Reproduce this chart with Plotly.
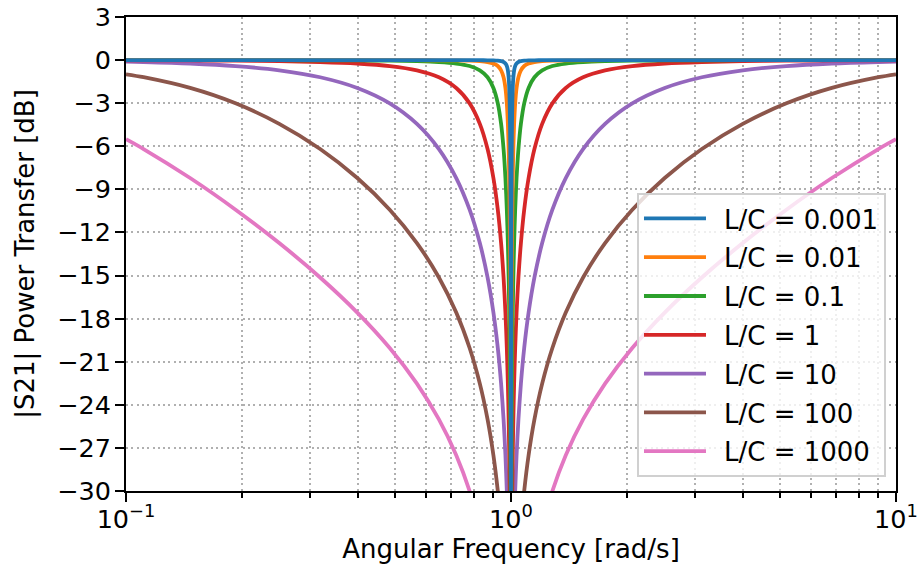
import plotly.graph_objects as go

# Angular frequency samples [rad/s] (shared by all curves)
omega = [
    0.1, 0.111081, 0.14675, 0.192582, 0.250031, 0.319378, 0.398833, 0.484186,
    0.569681, 0.649799, 0.720727, 0.780776, 0.829948, 0.869249, 0.900118, 0.924063,
    0.942472, 0.956531, 0.967218, 0.975312, 0.981428, 0.986041, 0.989513, 0.992126,
    0.994089, 0.995564, 0.996672, 0.997503, 0.998127, 0.998595, 0.998946, 0.99921,
    0.999407, 0.999555, 0.999667, 0.99975, 0.999813, 0.999859,
    1.000141, 1.000187, 1.00025, 1.000333, 1.000445, 1.000593, 1.000791, 1.001055,
    1.001407, 1.001876, 1.002503, 1.00334, 1.004456, 1.005946, 1.007937, 1.010598,
    1.014158, 1.018923, 1.025312, 1.033894, 1.045445, 1.061041, 1.082177, 1.110966,
    1.15042, 1.204895, 1.280776, 1.387488, 1.538939, 1.755368, 2.065325, 2.507316,
    3.131085, 3.999502, 5.192582, 6.814357, 9.00248, 10.0,
]

# |S21| [dB] for each L/C ratio
s21_lc_0001 = [
    0, 0, 0, 0, 0, 0, 0, 0,
    -0.001, -0.001, -0.002, -0.004, -0.008, -0.014, -0.024, -0.043, -0.077, -0.135,
    -0.238, -0.414, -0.711, -1.193, -1.938, -3.010, -4.438, -6.193, -8.211, -10.414,
    -12.738, -15.135, -17.577, -20.043, -22.524, -25.014, -27.508, -30.004, -32.502, -35.001,
    -35.001, -32.502, -30.004, -27.508, -25.014, -22.524, -20.043, -17.577, -15.135, -12.738,
    -10.414, -8.211, -6.193, -4.438, -3.010, -1.938, -1.193, -0.711, -0.414, -0.238,
    -0.135, -0.077, -0.043, -0.024, -0.014, -0.008, -0.004, -0.002, -0.001, -0.001,
    0, 0, 0, 0, 0, 0, 0, 0,
]
s21_lc_001 = [
    0, 0, 0, 0,
    -0.001, -0.001, -0.002, -0.004, -0.008, -0.014, -0.024, -0.043, -0.077, -0.135,
    -0.238, -0.414, -0.711, -1.193, -1.938, -3.010, -4.438, -6.193, -8.211, -10.414,
    -12.738, -15.135, -17.577, -20.043, -22.524, -25.014, -27.508, -30.004, -32.502, -35.001,
    -37.5, -40.0, -42.5, -45.0,
    -45.0, -42.5, -40.0, -37.5,
    -35.001, -32.502, -30.004, -27.508, -25.014, -22.524, -20.043, -17.577, -15.135, -12.738,
    -10.414, -8.211, -6.193, -4.438, -3.010, -1.938, -1.193, -0.711, -0.414, -0.238,
    -0.135, -0.077, -0.043, -0.024, -0.014, -0.008, -0.004, -0.002, -0.001, -0.001,
    0, 0, 0, 0,
]
s21_lc_01 = [
    -0.001, -0.001, -0.002, -0.004, -0.008, -0.014, -0.024, -0.043, -0.077, -0.135,
    -0.238, -0.414, -0.711, -1.193, -1.938, -3.010, -4.438, -6.193, -8.211, -10.414,
    -12.738, -15.135, -17.577, -20.043, -22.524, -25.014, -27.508, -30.004, -32.502, -35.001,
    -37.5, -40.0, -42.5, -45.0, -47.5, -50.0, -52.5, -55.0,
    -55.0, -52.5, -50.0, -47.5, -45.0, -42.5, -40.0, -37.5,
    -35.001, -32.502, -30.004, -27.508, -25.014, -22.524, -20.043, -17.577, -15.135, -12.738,
    -10.414, -8.211, -6.193, -4.438, -3.010, -1.938, -1.193, -0.711, -0.414, -0.238,
    -0.135, -0.077, -0.043, -0.024, -0.014, -0.008, -0.004, -0.002, -0.001, -0.001,
]
s21_lc_1 = [
    -0.011,
    -0.014, -0.024, -0.043, -0.077, -0.135,
    -0.238, -0.414, -0.711, -1.193, -1.938, -3.010, -4.438, -6.193, -8.211, -10.414,
    -12.738, -15.135, -17.577, -20.043, -22.524, -25.014, -27.508, -30.004, -32.502, -35.001,
    -37.5, -40.0, -42.5, -45.0, -47.5, -50.0, -52.5, -55.0, -57.5, -60.0, -62.5, -65.0,
    -65.0, -62.5, -60.0, -57.5, -55.0, -52.5, -50.0, -47.5, -45.0, -42.5, -40.0, -37.5,
    -35.001, -32.502, -30.004, -27.508, -25.014, -22.524, -20.043, -17.577, -15.135, -12.738,
    -10.414, -8.211, -6.193, -4.438, -3.010, -1.938, -1.193, -0.711, -0.414, -0.238,
    -0.135, -0.077, -0.043, -0.024, -0.014,
    -0.011,
]
s21_lc_10 = [
    -0.110,
    -0.135,
    -0.238, -0.414, -0.711, -1.193, -1.938, -3.010, -4.438, -6.193, -8.211, -10.414,
    -12.738, -15.135, -17.577, -20.043, -22.524, -25.014, -27.508, -30.004, -32.502, -35.001,
    -37.5, -40.0, -42.5, -45.0, -47.5, -50.0, -52.5, -55.0,
    -57.5, -60.0, -62.5, -65.0, -67.5, -70.0, -72.5, -75.0,
    -75.0, -72.5, -70.0, -67.5, -65.0, -62.5, -60.0, -57.5,
    -55.0, -52.5, -50.0, -47.5, -45.0, -42.5, -40.0, -37.5,
    -35.001, -32.502, -30.004, -27.508, -25.014, -22.524, -20.043, -17.577, -15.135, -12.738,
    -10.414, -8.211, -6.193, -4.438, -3.010, -1.938, -1.193, -0.711, -0.414, -0.238,
    -0.135,
    -0.110,
]
s21_lc_100 = [
    -0.987,
    -1.193, -1.938, -3.010, -4.438, -6.193, -8.211, -10.414,
    -12.738, -15.135, -17.577, -20.043, -22.524, -25.014, -27.508, -30.004, -32.502, -35.001,
    -37.5, -40.0, -42.5, -45.0, -47.5, -50.0, -52.5, -55.0, -57.5, -60.0,
    -62.5, -65.0, -67.5, -70.0, -72.5, -75.0, -77.5, -80.0, -82.5, -85.0,
    -85.0, -82.5, -80.0, -77.5, -75.0, -72.5, -70.0, -67.5, -65.0, -62.5,
    -60.0, -57.5, -55.0, -52.5, -50.0, -47.5, -45.0, -42.5, -40.0, -37.5,
    -35.001, -32.502, -30.004, -27.508, -25.014, -22.524, -20.043, -17.577, -15.135, -12.738,
    -10.414, -8.211, -6.193, -4.438, -3.010, -1.938, -1.193,
    -0.987,
]
s21_lc_1000 = [
    -5.506,
    -6.193, -8.211, -10.414,
    -12.738, -15.135, -17.577, -20.043, -22.524, -25.014, -27.508, -30.004, -32.502, -35.001,
    -37.5, -40.0, -42.5, -45.0, -47.5, -50.0, -52.5, -55.0, -57.5, -60.0, -62.5, -65.0,
    -67.5, -70.0, -72.5, -75.0, -77.5, -80.0, -82.5, -85.0, -87.5, -90.0, -92.5, -95.0,
    -95.0, -92.5, -90.0, -87.5, -85.0, -82.5, -80.0, -77.5, -75.0, -72.5, -70.0, -67.5,
    -65.0, -62.5, -60.0, -57.5, -55.0, -52.5, -50.0, -47.5, -45.0, -42.5, -40.0, -37.5,
    -35.001, -32.502, -30.004, -27.508, -25.014, -22.524, -20.043, -17.577, -15.135, -12.738,
    -10.414, -8.211, -6.193,
    -5.506,
]

series_names = ["L/C = 0.001", "L/C = 0.01", "L/C = 0.1", "L/C = 1",
                "L/C = 10", "L/C = 100", "L/C = 1000"]
series_values = [s21_lc_0001, s21_lc_001, s21_lc_01, s21_lc_1,
                 s21_lc_10, s21_lc_100, s21_lc_1000]
colors = ["#1f77b4", "#ff7f0e", "#2ca02c", "#d62728", "#9467bd", "#8c564b", "#e377c2"]

for v in series_values:
    assert len(v) == len(omega), (len(v), len(omega))

y_ticks = [3, 0, -3, -6, -9, -12, -15, -18, -21, -24, -27, -30]
x_ticks = [0.1, 1, 10]
x_tick_text = ["10<sup>\u22121</sup>", "10<sup>0</sup>", "10<sup>1</sup>"]
x_minor = [0.2, 0.3, 0.4, 0.5, 0.6, 0.7, 0.8, 0.9, 2, 3, 4, 5, 6, 7, 8, 9]

FS = 25.5        # tick labels
FS_TITLE = 26    # axis titles
FS_LEG = 26      # legend
fig = go.Figure()
# draw in reverse so the narrow notch (L/C = 0.001) sits on top
for i in reversed(range(len(series_names))):
    fig.add_trace(go.Scatter(
        x=omega, y=series_values[i], mode="lines",
        name="\u2002" + series_names[i],   # en-space: gap between handle and label
        line=dict(color=colors[i], width=3.8, shape="spline", smoothing=0.8),
        legendgroup=series_names[i], legendrank=i + 1,
    ))

grid_col = "#b0b0b0"
grid_dash = "2px,3.3px"
fig.update_layout(
    width=919, height=576,
    margin=dict(l=126, r=23, t=17, b=85),
    paper_bgcolor="white", plot_bgcolor="white",
    font=dict(family="DejaVu Sans", size=FS, color="black"),
    showlegend=True,
    legend=dict(
        x=0.987, y=0.0295, xanchor="right", yanchor="bottom",
        bgcolor="rgba(255,255,255,0.8)", bordercolor="#d0d0d0", borderwidth=2,
        font=dict(family="DejaVu Sans", size=FS_LEG, color="black"),
        tracegroupgap=2, traceorder="grouped", itemwidth=62,
    ),
    xaxis=dict(
        type="log", range=[-1, 1], automargin=False,
        tickvals=x_ticks, ticktext=x_tick_text,
        ticks="outside", ticklen=9, tickwidth=2, tickcolor="black",
        showline=True, linecolor="black", linewidth=2, mirror=True,
        showgrid=True, gridcolor=grid_col, griddash=grid_dash, gridwidth=2,
        minor=dict(tickvals=x_minor, ticks="outside", ticklen=5, tickwidth=1.5,
                   tickcolor="black", showgrid=True, gridcolor=grid_col,
                   griddash=grid_dash, gridwidth=2),
        title=dict(text="Angular Frequency [rad/s]", standoff=6,
                   font=dict(size=FS_TITLE)),
        zeroline=False, ticklabelstandoff=-5,
    ),
    yaxis=dict(
        range=[-30, 3], tickvals=y_ticks, automargin=False,
        ticks="outside", ticklen=9, tickwidth=2, tickcolor="black",
        showline=True, linecolor="black", linewidth=2, mirror=True,
        showgrid=True, gridcolor=grid_col, griddash=grid_dash, gridwidth=2,
        title=dict(text="|S21| Power Transfer [dB]", standoff=15,
                   font=dict(size=FS_TITLE)),
        zeroline=False, ticklabelstandoff=-1,
    ),
)

fig.write_html("out.html")
